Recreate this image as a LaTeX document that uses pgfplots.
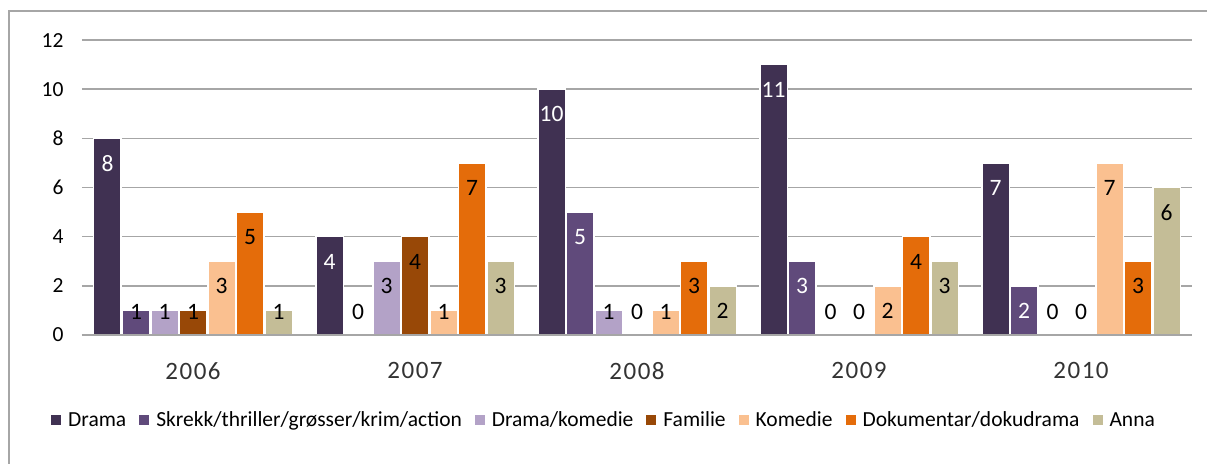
\documentclass[border=0pt]{standalone}
\usepackage{fontspec}
\setmainfont{Carlito}
\newfontfamily\yearfont[LetterSpace=6]{Carlito}
\usepackage{pgfplots}
\pgfplotsset{compat=1.18}
\definecolor{cDrama}{HTML}{403152}
\definecolor{cSkrekk}{HTML}{604A7B}
\definecolor{cDK}{HTML}{B3A2C7}
\definecolor{cFam}{HTML}{984807}
\definecolor{cKom}{HTML}{FAC090}
\definecolor{cDok}{HTML}{E46C0A}
\definecolor{cAnna}{HTML}{C4BD97}
\definecolor{gridc}{HTML}{A6A6A6}
\begin{document}
\begin{tikzpicture}
\begin{axis}[
 x=222pt, y=24.58pt,
 xmin=-0.5, xmax=4.5, ymin=0, ymax=12,
 ybar=1pt, bar width=27.5pt,
 axis line style={draw=none},
 ytick={0,2,...,12}, xtick={0,1,2,3,4}, xticklabels={2006,2007,2008,2009,2010},
 major tick length=0pt,
 ymajorgrids, grid style={gridc, line width=1.5pt},
 /pgf/number format/assume math mode=true,
 yticklabel style={font=\fontsize{21.5}{25}\selectfont, xshift=-15pt},
 xticklabel style={font=\yearfont\fontsize{25}{30}\selectfont, text=black!80, yshift=-24pt},
 clip=false,
 point meta=explicit symbolic,
 nodes near coords,
 visualization depends on={rawy\as\rawy},
 every node near coord/.append style={font=\fontsize{23.5}{27}\selectfont, anchor=center, yshift={(max(\rawy-1.02,0.93)-\rawy)*24.58}},
 every axis plot/.append style={draw=white, line width=1.5pt},
 legend style={at={(axis description cs:0.4703,-0.288)}, anchor=center, draw=none, legend columns=-1, font=\fontsize{21.5}{25}\selectfont, /tikz/every odd column/.append style={column sep=5pt}, /tikz/every even column/.append style={column sep=11pt}},
 legend image code/.code={\fill[#1,draw=none] (0pt,-5pt) rectangle (10pt,5pt);},
]
\addplot[fill=cDrama] coordinates {(0,8)[\textcolor{white}{8}] (1,4)[\textcolor{white}{4}] (2,10)[\textcolor{white}{10}] (3,11)[\textcolor{white}{11}] (4,7)[\textcolor{white}{7}]};
\addplot[fill=cSkrekk] coordinates {(0,1)[1] (1,0)[0] (2,5)[\textcolor{white}{5}] (3,3)[\textcolor{white}{3}] (4,2)[\textcolor{white}{2}]};
\addplot[fill=cDK] coordinates {(0,1)[1] (1,3)[3] (2,1)[1] (3,0)[0] (4,0)[0]};
\addplot[fill=cFam] coordinates {(0,1)[1] (1,4)[4] (2,0)[0] (3,0)[0] (4,0)[0]};
\addplot[fill=cKom] coordinates {(0,3)[3] (1,1)[1] (2,1)[1] (3,2)[2] (4,7)[7]};
\addplot[fill=cDok] coordinates {(0,5)[5] (1,7)[7] (2,3)[3] (3,4)[4] (4,3)[3]};
\addplot[fill=cAnna] coordinates {(0,1)[1] (1,3)[3] (2,2)[2] (3,3)[3] (4,6)[6]};
\legend{Drama, Skrekk/thriller/grøsser/krim/action, Drama/komedie, Familie, Komedie, Dokumentar/dokudrama, Anna}
\draw[gridc, line width=1.5pt] (axis cs:-0.5,0) -- (axis cs:4.5,0);
\coordinate (O) at (axis cs:-0.5,0);
\end{axis}
\draw[gridc, line width=1.5pt] ([shift={(-73pt,-200pt)}]O) -- ([shift={(-73pt,324pt)}]O) -- ([shift={(1200pt,324pt)}]O);
\pgfresetboundingbox
\path[use as bounding box] ([shift={(-82pt,-128pt)}]O) rectangle ([shift={(1125pt,335pt)}]O);
\end{tikzpicture}
\end{document}
